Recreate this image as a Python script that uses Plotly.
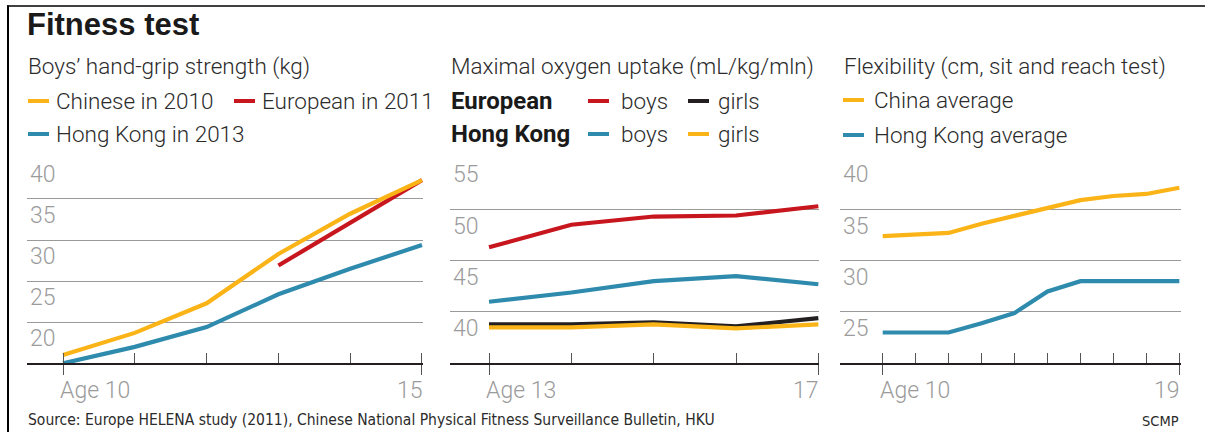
import plotly.graph_objects as go

W, H = 1205, 432

# ---------------- data ----------------
grip_ages = [10, 11, 12, 13, 14, 15]
grip_chinese_2010 = [16.0, 18.7, 22.3, 28.3, 33.2, 37.3]
grip_hongkong_2013 = [15.0, 17.0, 19.4, 23.4, 26.5, 29.4]
grip_european_ages = [13, 14, 15]
grip_european_2011 = [26.9, 32.1, 37.3]
grip_yticks = [20, 25, 30, 35, 40]

vo2_ages = [13, 14, 15, 16, 17]
vo2_eu_boys = [46.3, 48.5, 49.3, 49.4, 50.3]
vo2_eu_girls = [38.8, 38.8, 39.0, 38.6, 39.4]
vo2_hk_boys = [41.0, 41.9, 43.0, 43.5, 42.7]
vo2_hk_girls = [38.5, 38.5, 38.8, 38.4, 38.8]
vo2_yticks = [40, 45, 50, 55]

flex_ages = [10, 11, 12, 13, 14, 15, 16, 17, 18, 19]
flex_china = [32.4, 32.5, 32.7, 33.6, 34.4, 35.1, 35.9, 36.3, 36.5, 37.1]
flex_hk = [23.0, 23.0, 23.0, 23.9, 24.9, 27.0, 28.0, 28.0, 28.0, 28.0]
flex_yticks = [25, 30, 35, 40]

# ---------------- style ----------------
YELLOW = "#FBB417"
RED = "#C8161E"
BLUE = "#2E8BAD"
BLACK = "#231F20"
GRID = "#9A9A9A"
TICKGREY = "#9B9B9B"
TEXT = "#2B2B2B"
FONT = "Roboto"
TITLEFONT = "Liberation Sans, Arial, sans-serif"
NARROW = "DejaVu Sans Condensed, DejaVu Sans, sans-serif"


def px(x):
    return x / W


def py(y):
    return 1 - y / H


fig = go.Figure()


def add_line(x, y, color, ax):
    fig.add_trace(go.Scatter(x=x, y=y, mode="lines", xaxis="x" + ax, yaxis="y" + ax,
                             line=dict(color=color, width=4.2), hoverinfo="skip",
                             showlegend=False))


add_line(grip_ages, grip_hongkong_2013, BLUE, "")
add_line(grip_european_ages, grip_european_2011, RED, "")
add_line(grip_ages, grip_chinese_2010, YELLOW, "")

add_line(vo2_ages, vo2_eu_boys, RED, "2")
add_line(vo2_ages, vo2_hk_boys, BLUE, "2")
add_line(vo2_ages, vo2_eu_girls, BLACK, "2")
add_line(vo2_ages, vo2_hk_girls, YELLOW, "2")

add_line(flex_ages, flex_china, YELLOW, "3")
add_line(flex_ages, flex_hk, BLUE, "3")

panels = [
    # suffix, x-pixels, x range, y range, yticks, ages
    ("", (27, 423), (9.4986, 15.014), (15, 40.08), grip_yticks, grip_ages),
    ("2", (450, 819), (12.526, 17.008), (35, 55.08), vo2_yticks, vo2_ages),
    ("3", (840, 1181), (8.7045, 19.05), (20, 40.08), flex_yticks, flex_ages),
]

YDOM = [py(363.3), py(157.2)]

for suf, (x0, x1), xr, yr, yt, ages in panels:
    fig.update_layout(**{
        "xaxis" + suf: dict(
            domain=[px(x0), px(x1)], range=list(xr), anchor="y" + suf,
            showgrid=False, zeroline=False, showline=True, linecolor=BLACK, linewidth=2,
            ticks="outside", tickmode="array", tickvals=[ages[0], ages[-1]],
            ticklen=10, tickwidth=1, tickcolor="#555555", showticklabels=False,
            minor=dict(tickmode="array", tickvals=ages, ticks="inside", ticklen=10,
                       tickwidth=1, tickcolor="#555555", showgrid=False),
            fixedrange=True,
        ),
        "yaxis" + suf: dict(
            domain=YDOM, range=list(yr), anchor="x" + suf,
            showgrid=True, gridcolor=GRID, gridwidth=1, zeroline=False, showline=False,
            tickmode="array", tickvals=yt, ticks="",
            ticklabelposition="inside bottom",
            tickfont=dict(family=FONT, size=23, color=TICKGREY, weight=300),
            fixedrange=True,
        ),
    })

annotations = []
shapes = []


def text(x, y, s, size=22.5, color=TEXT, family=FONT, weight=300, xanchor="left"):
    annotations.append(dict(x=px(x), y=py(y), xref="paper", yref="paper", text=s,
                            showarrow=False, xanchor=xanchor, yanchor="middle",
                            font=dict(family=family, size=size, color=color, weight=weight)))


def dash(x, y, color):
    shapes.append(dict(type="line", xref="paper", yref="paper", x0=px(x), x1=px(x + 21),
                       y0=py(y), y1=py(y), line=dict(color=color, width=4)))


# title
text(25, 25, "Fitness test", size=31, color="#1A1A1A", family=TITLEFONT, weight=700)

# panel 1
text(26, 66, "Boys’ hand-grip strength (kg)")
dash(28, 101, YELLOW)
text(54, 101, "Chinese in 2010")
dash(234, 101, RED)
text(260, 101, "European in 2011")
dash(28, 134, BLUE)
text(54, 134, "Hong Kong in 2013")

# panel 2
text(449, 66, "Maximal oxygen uptake (mL/kg/mln)")
text(449, 101, "European", size=24, weight=700, color="#1A1A1A")
text(449, 134, "Hong Kong", size=24, weight=700, color="#1A1A1A")
dash(588, 101, RED)
text(619, 101, "boys")
dash(688, 101, BLACK)
text(716, 101, "girls")
dash(588, 134, BLUE)
text(619, 134, "boys")
dash(688, 134, YELLOW)
text(716, 134, "girls")

# panel 3
text(842, 66, "Flexibility (cm, sit and reach test)")
dash(843, 100, YELLOW)
text(872, 100, "China average")
dash(843, 135, BLUE)
text(872, 135, "Hong Kong average")

# x tick labels (placed at axis values)
for suf, first, last in [("", grip_ages[0], grip_ages[-1]),
                         ("2", vo2_ages[0], vo2_ages[-1]),
                         ("3", flex_ages[0], flex_ages[-1])]:
    annotations.append(dict(x=first, y=py(390), xref="x" + suf, yref="paper",
                            text=f"Age {first}", showarrow=False, xanchor="left",
                            yanchor="middle", xshift=-5,
                            font=dict(family=FONT, size=23, color=TICKGREY, weight=300)))
    annotations.append(dict(x=last, y=py(390), xref="x" + suf, yref="paper",
                            text=str(last), showarrow=False, xanchor="right",
                            yanchor="middle", xshift=3,
                            font=dict(family=FONT, size=23, color=TICKGREY, weight=300)))

# source
text(26, 420, "Source: Europe HELENA study (2011), Chinese National Physical Fitness "
     "Surveillance Bulletin, HKU", size=15.5, family=NARROW, weight=400, color=TEXT)
text(1181, 421, "SCMP", size=14.5, family=NARROW, weight=400, color=TEXT, xanchor="right")

# frame
shapes.append(dict(type="line", xref="paper", yref="paper", x0=px(8), x1=px(8),
                   y0=py(5.5), y1=0, line=dict(color="#000000", width=2)))
shapes.append(dict(type="line", xref="paper", yref="paper", x0=px(7), x1=1,
                   y0=py(6), y1=py(6), line=dict(color="#000000", width=1.5)))

fig.update_layout(
    width=W, height=H, margin=dict(l=0, r=0, t=0, b=0),
    paper_bgcolor="white", plot_bgcolor="white",
    showlegend=False, annotations=annotations, shapes=shapes,
)

fig.write_html("out.html", config={"displayModeBar": False},
               post_script="document.body.style.margin='0';document.body.style.overflow='hidden';")
